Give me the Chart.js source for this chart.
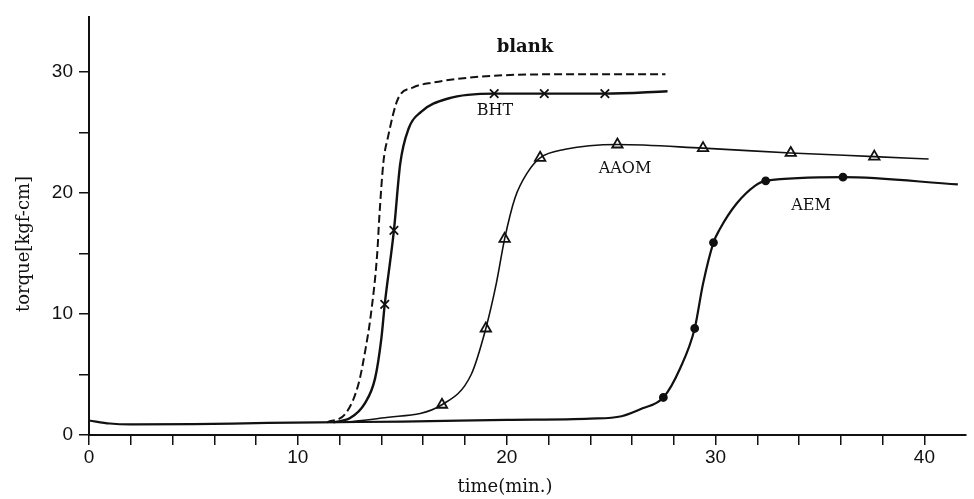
<!DOCTYPE html>
<html>
<head>
<meta charset="utf-8">
<script src="https://cdn.jsdelivr.net/npm/chart.js@4/dist/chart.umd.min.js"></script>
<style>
  body { margin: 0; background: #fff; }
  #wrap { width: 974px; height: 499px; }
</style>
</head>
<body>
<div id="wrap"><canvas id="grafico" width="974" height="499"></canvas></div>
<script>
// curvas (tiempo en min, torque en kgf-cm)
const tBlank = [11.4, 12.3, 12.9, 13.25, 13.5, 13.8, 13.9, 14.1, 14.3, 14.8, 15.5, 16.4, 19.6, 23, 27.6]
const yBlank = [1.05, 1.8, 4.2, 7.2, 10, 15, 18, 22.6, 24.5, 27.8, 28.7, 29.1, 29.7, 29.8, 29.8]

const tBHT = [11.7, 12.5, 13.2, 13.7, 14.0, 14.16, 14.6, 14.9, 15.3, 15.9, 17.2, 19.4, 21.8, 24.7, 27.7]
const yBHT = [1.05, 1.4, 2.6, 4.7, 8, 10.8, 16.9, 22.4, 25.3, 26.7, 27.8, 28.2, 28.2, 28.2, 28.4]

const tAAOM = [12.2, 14, 16.9, 18.3, 19.0, 19.5, 19.9, 20.4, 21.0, 21.6, 22.8, 25.3, 29.4, 33.6, 37.6, 40.2]
const yAAOM = [1.05, 1.4, 2.5, 5.0, 8.8, 12.5, 16.2, 19.6, 21.7, 22.9, 23.6, 24.0, 23.7, 23.3, 23.0, 22.8]

const tAEM = [0, 1, 2, 5, 8, 11, 15, 20, 24, 25.5, 26.5, 27.5, 28.3, 29.0, 29.4, 29.9, 30.2, 31.0, 31.9, 32.4, 36.1, 41.6]
const yAEM = [1.2, 0.95, 0.88, 0.9, 0.98, 1.05, 1.1, 1.25, 1.35, 1.55, 2.2, 3.1, 5.5, 8.8, 12.5, 15.9, 17.0, 19.1, 20.6, 21.0, 21.3, 20.7]

// marcadores de cada serie
const mBHT_t = [14.16, 14.6, 19.4, 21.8, 24.7]
const mBHT_y = [10.8, 16.9, 28.2, 28.2, 28.2]
const mAAOM_t = [16.9, 19.0, 19.9, 21.6, 25.3, 29.4, 33.6, 37.6]
const mAAOM_y = [2.5, 8.8, 16.2, 22.9, 24.0, 23.7, 23.3, 23.0]
const mAEM_t = [27.5, 29.0, 29.9, 32.4, 36.1]
const mAEM_y = [3.1, 8.8, 15.9, 21.0, 21.3]

// ejes
const xTicks = [0, 10, 20, 30, 40]
const yTicks = [0, 10, 20, 30]

// etiquetas de las curvas
const etiquetas = ['blank', 'BHT', 'AAOM', 'AEM']
const etiquetaPos = [[525, 47], [495, 111], [625, 169], [811, 206]]

const pares = (ts, ys) => ts.map((t, i) => ({ x: t, y: ys[i] }))

const curva = (label, ts, ys, ancho, dash) => ({
  label: label,
  data: pares(ts, ys),
  showLine: true,
  borderColor: '#111',
  borderWidth: ancho,
  borderDash: dash || [],
  pointRadius: 0,
  cubicInterpolationMode: 'monotone',
  fill: false,
})

const marcas = (label, ts, ys, estilo, radio, relleno) => ({
  label: label,
  data: pares(ts, ys),
  showLine: false,
  pointStyle: estilo,
  pointRadius: radio,
  pointBorderWidth: 1.8,
  pointBorderColor: '#111',
  pointBackgroundColor: relleno,
})

const textos = {
  id: 'textos',
  afterDraw(chart) {
    const ctx = chart.ctx
    ctx.save()
    ctx.fillStyle = '#111'
    ctx.textAlign = 'center'
    ctx.textBaseline = 'middle'
    ctx.font = '18px "DejaVu Serif"'
    ctx.fillText('time(min.)', 505, 487)
    ctx.save()
    ctx.translate(24, 244)
    ctx.rotate(-Math.PI / 2)
    ctx.fillText('torque[kgf-cm]', 0, 0)
    ctx.restore()
    etiquetas.forEach((txt, i) => {
      ctx.font = (i === 0 ? 'bold 18px' : '16px') + ' "DejaVu Serif"'
      ctx.fillText(txt, etiquetaPos[i][0], etiquetaPos[i][1])
    })
    ctx.restore()
  }
}

const barr = document.getElementById('grafico')

new Chart(barr, {
  type: 'scatter',
  data: {
    datasets: [
      curva('blank', tBlank, yBlank, 2, [8, 4]),
      curva('BHT', tBHT, yBHT, 2.4),
      curva('AAOM', tAAOM, yAAOM, 1.6),
      curva('AEM', tAEM, yAEM, 2.2),
      marcas('BHT x', mBHT_t, mBHT_y, 'crossRot', 6, '#111'),
      marcas('AAOM tri', mAAOM_t, mAAOM_y, 'triangle', 6, '#fff'),
      marcas('AEM dot', mAEM_t, mAEM_y, 'circle', 3.5, '#111'),
    ],
  },
  options: {
    responsive: false,
    animation: false,
    layout: { padding: { top: 10, right: 4, left: 0, bottom: 0 } },
    plugins: { legend: { display: false }, tooltip: { enabled: false } },
    scales: {
      x: {
        type: 'linear',
        min: 0,
        max: 42,
        afterFit: (s) => { s.height = 64 },
        afterBuildTicks: (s) => { s.ticks = s.ticks.filter(t => t.value <= 40) },
        border: { display: true, color: '#111', width: 2 },
        grid: { drawOnChartArea: false, drawTicks: true, tickLength: 10, color: '#111', lineWidth: 1.5 },
        ticks: {
          stepSize: 2,
          padding: 1,
          color: '#111',
          font: { family: 'Liberation Sans', size: 19 },
          maxRotation: 0,
          autoSkip: false,
          callback: (v) => xTicks.includes(v) ? String(v) : '',
        },
      },
      y: {
        min: 0,
        max: 34.5,
        afterFit: (s) => { s.width = 89 },
        afterBuildTicks: (s) => { s.ticks = s.ticks.filter(t => t.value <= 30) },
        border: { display: true, color: '#111', width: 2 },
        grid: { drawOnChartArea: false, drawTicks: true, tickLength: 10, color: '#111', lineWidth: 1.5 },
        ticks: {
          stepSize: 5,
          padding: 6,
          color: '#111',
          font: { family: 'Liberation Sans', size: 19 },
          autoSkip: false,
          callback: (v) => yTicks.includes(v) ? String(v) : '',
        },
      },
    },
  },
  plugins: [textos],
})
</script>
</body>
</html>
